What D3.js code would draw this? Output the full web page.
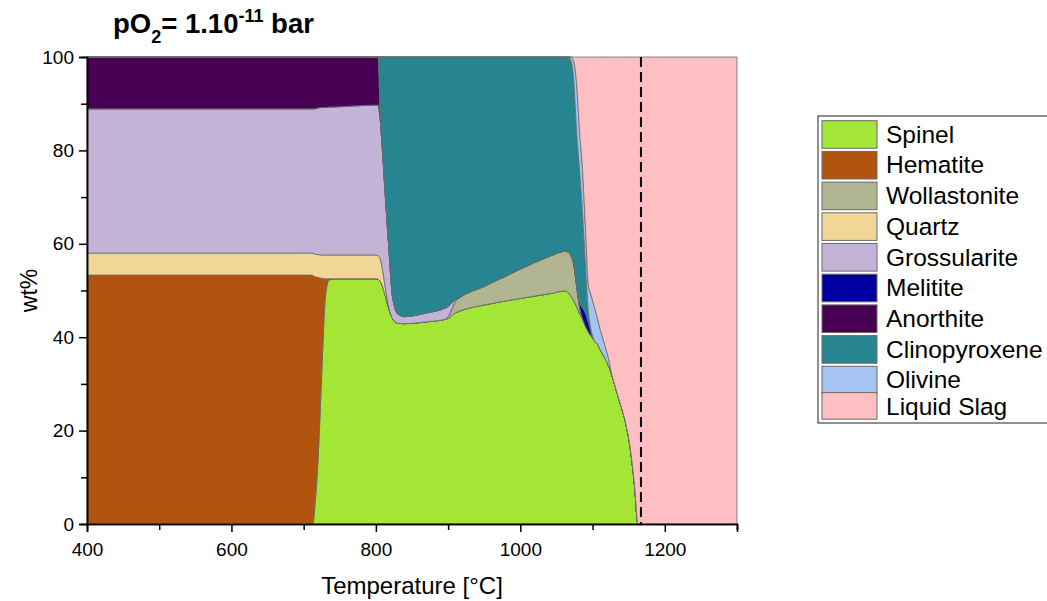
<!DOCTYPE html>
<html>
<head>
<meta charset="utf-8">
<script src="https://cdn.jsdelivr.net/npm/d3@7"></script>
<style>
body { margin: 0; background: #fff; }
text { font-family: Arial, "Liberation Sans", sans-serif; fill: #000; }
</style>
</head>
<body>
<div id="chart"></div>
<script>
// phase names, bottom of the stack first
var phases = ["Spinel", "Hematite", "Wollastonite", "Quartz", "Grossularite",
  "Melitite", "Anorthite", "Clinopyroxene", "Olivine", "Liquid Slag"];

// temperature grid (°C)
var temps = [400, 700, 705, 710, 713,
  715, 720, 725, 730, 735,
  740, 780, 800, 803, 806,
  810, 814, 818, 822, 826,
  830, 840, 870, 895, 900,
  905, 910, 915, 920, 950,
  1000, 1040, 1062, 1066, 1070,
  1074, 1078, 1082, 1086, 1090,
  1094, 1098, 1102, 1106, 1110,
  1116, 1122, 1126, 1130, 1134,
  1140, 1146, 1152, 1158, 1163,
  1170, 1300];

// wt% of each phase at the temperatures above
var spinel = [0, 0, 0, 0, 0,
  3, 14, 32, 48.5, 52.2,
  52.5, 52.5, 52.5, 52.4, 52.0,
  50.5, 48.3, 46.0, 44.3, 43.4,
  43.0, 42.9, 43.3, 43.8, 44.0,
  44.6, 45.2, 45.5, 45.8, 46.9,
  48.3, 49.3, 49.9, 49.6, 48.8,
  47.8, 46.5, 45.0, 43.9, 42.5,
  41.2, 40.3, 39.4, 38.7, 37.5,
  35.8, 33.9, 32.2, 30.2, 28.0,
  25.0, 21.5, 16.5, 8.5, 0,
  0, 0];

var hematite = [53.3, 53.3, 53.3, 53.3, 53.2,
  50.0, 38.8, 20.6, 4.0, 0.3,
  0, 0, 0, 0, 0,
  0, 0, 0, 0, 0,
  0, 0, 0, 0, 0,
  0, 0, 0, 0, 0,
  0, 0, 0, 0, 0,
  0, 0, 0, 0, 0,
  0, 0, 0, 0, 0,
  0, 0, 0, 0, 0,
  0, 0, 0, 0, 0,
  0, 0];

var wollastonite = [0, 0, 0, 0, 0,
  0, 0, 0, 0, 0,
  0, 0, 0, 0, 0,
  0, 0, 0, 0, 0,
  0, 0, 0, 0, 0.4,
  1.4, 2.5, 2.9, 3.1, 4.0,
  6.3, 8.0, 8.5, 8.6, 8.7,
  7.7, 4.5, 1.5, 0.2, 0,
  0, 0, 0, 0, 0,
  0, 0, 0, 0, 0,
  0, 0, 0, 0, 0,
  0, 0];

var quartz = [4.7, 4.7, 4.7, 4.7, 4.8,
  4.8, 4.9, 5.0, 5.1, 5.1,
  5.1, 5.1, 5.1, 5.0, 4.8,
  3.2, 1.4, 0.3, 0, 0,
  0, 0, 0, 0, 0,
  0, 0, 0, 0, 0,
  0, 0, 0, 0, 0,
  0, 0, 0, 0, 0,
  0, 0, 0, 0, 0,
  0, 0, 0, 0, 0,
  0, 0, 0, 0, 0,
  0, 0];

var grossularite = [30.9, 30.9, 30.9, 30.9, 30.9,
  31.1, 31.4, 31.6, 31.6, 31.7,
  31.7, 32.0, 32.1, 32.3, 29.7,
  24.0, 18.2, 12.7, 5.7, 3.1,
  2.0, 1.5, 1.9, 2.4, 2.2,
  1.3, 0.4, 0, 0, 0,
  0, 0, 0, 0, 0,
  0, 0, 0, 0, 0,
  0, 0, 0, 0, 0,
  0, 0, 0, 0, 0,
  0, 0, 0, 0, 0,
  0, 0];

var melitite = [0, 0, 0, 0, 0,
  0, 0, 0, 0, 0,
  0, 0, 0, 0, 0,
  0, 0, 0, 0, 0,
  0, 0, 0, 0, 0,
  0, 0, 0, 0, 0,
  0, 0, 0, 0, 0,
  0, 0, 1.0, 2.2, 2.8,
  2.2, 0.8, 0, 0, 0,
  0, 0, 0, 0, 0,
  0, 0, 0, 0, 0,
  0, 0];

var anorthite = [11.1, 11.1, 11.1, 11.1, 11.1,
  11.1, 10.9, 10.8, 10.8, 10.7,
  10.7, 10.4, 10.3, 10.3, 1.5,
  0.3, 0.1, 0, 0, 0,
  0, 0, 0, 0, 0,
  0, 0, 0, 0, 0,
  0, 0, 0, 0, 0,
  0, 0, 0, 0, 0,
  0, 0, 0, 0, 0,
  0, 0, 0, 0, 0,
  0, 0, 0, 0, 0,
  0, 0];

var clinopyroxene = [0, 0, 0, 0, 0,
  0, 0, 0, 0, 0,
  0, 0, 0, 0, 12,
  22, 32, 41, 50, 53.5,
  55, 55.6, 54.8, 53.8, 53.4,
  52.7, 51.9, 51.6, 51.1, 49.1,
  45.4, 42.7, 41.6, 41.8, 41.8,
  39.5, 33, 28.5, 20.7, 10.7,
  2.6, 0.5, 0, 0, 0,
  0, 0, 0, 0, 0,
  0, 0, 0, 0, 0,
  0, 0];

var olivine = [0, 0, 0, 0, 0,
  0, 0, 0, 0, 0,
  0, 0, 0, 0, 0,
  0, 0, 0, 0, 0,
  0, 0, 0, 0, 0,
  0, 0, 0, 0, 0,
  0, 0, 0, 0, 0.7,
  4, 10, 8, 9, 8,
  5.5, 7.4, 7.4, 5.8, 4.5,
  3.0, 1.6, 0.3, 0, 0,
  0, 0, 0, 0, 0,
  0, 0];

var liquid = [0, 0, 0, 0, 0,
  0, 0, 0, 0, 0,
  0, 0, 0, 0, 0,
  0, 0, 0, 0, 0,
  0, 0, 0, 0, 0,
  0, 0, 0, 0, 0,
  0, 0, 0, 0, 0,
  1, 6, 16, 24, 36,
  48.5, 51, 53.2, 55.5, 58,
  61.2, 64.5, 67.5, 69.8, 72,
  75, 78.5, 83.5, 91.5, 100,
  100, 100];

// dashed marker temperature
var markerT = 1167;

var xTicks = [400, 600, 800, 1000, 1200];
var xMinor = [500, 700, 900, 1100, 1300];
var yTicks = [0, 20, 40, 60, 80, 100];
var yMinor = [10, 30, 50, 70, 90];

var colors = {
  "Spinel": "#a3e636",
  "Hematite": "#b0540e",
  "Wollastonite": "#b1b592",
  "Quartz": "#f2d698",
  "Grossularite": "#c2b3d7",
  "Melitite": "#0000a0",
  "Anorthite": "#480052",
  "Clinopyroxene": "#268590",
  "Olivine": "#a6c4f2",
  "Liquid Slag": "#fdbfc1"
};

var series = [spinel, hematite, wollastonite, quartz, grossularite,
  melitite, anorthite, clinopyroxene, olivine, liquid];

var table = temps.map(function(t, i) {
  var row = {T: t};
  phases.forEach(function(p, j) { row[p] = series[j][i]; });
  return row;
});

var svgWidth = 1047;
var svgHeight = 601;
var margin = {top: 57, right: 310, bottom: 77, left: 87};
var width = svgWidth - margin.left - margin.right;
var height = svgHeight - margin.top - margin.bottom;

var svg = d3.select("#chart")
  .append("svg")
  .attr("width", svgWidth)
  .attr("height", svgHeight);

var chartGroup = svg.append("g")
  .attr("transform", `translate(${margin.left}, ${margin.top})`);

var x = d3.scaleLinear().domain([400, 1300]).range([0, width]);
var y = d3.scaleLinear().domain([0, 100]).range([height, 0]);

var stacked = d3.stack().keys(phases)(table);

var area = d3.area()
  .x(d => x(d.data.T))
  .y0(d => y(d[0]))
  .y1(d => y(d[1]))
  .curve(d3.curveMonotoneX);

chartGroup.selectAll("path.layer")
  .data(stacked)
  .enter()
  .append("path")
  .attr("class", "layer")
  .attr("d", area)
  .attr("fill", d => colors[d.key])
  .attr("stroke", "#6a6a6a")
  .attr("stroke-width", 0.8);

// dashed vertical line
chartGroup.append("line")
  .attr("x1", x(markerT)).attr("x2", x(markerT))
  .attr("y1", 0).attr("y2", height)
  .attr("stroke", "#000")
  .attr("stroke-width", 2)
  .attr("stroke-dasharray", "10,5");

// axes
var bottomAxis = d3.axisBottom(x).tickValues(xTicks).tickSize(8).tickPadding(11).tickFormat(d3.format("d"));
var bottomMinor = d3.axisBottom(x).tickValues(xMinor).tickSize(6).tickFormat("");
var leftAxis = d3.axisLeft(y).tickValues(yTicks).tickSize(8).tickPadding(5);
var leftMinor = d3.axisLeft(y).tickValues(yMinor).tickSize(6).tickFormat("");

function styleAxis(g) {
  g.selectAll("path.domain").attr("stroke", "#000").attr("stroke-width", 1.5);
  g.selectAll(".tick line").attr("stroke", "#000").attr("stroke-width", 1.5);
  g.selectAll(".tick text").attr("font-size", "19px").attr("font-family", "Arial, 'Liberation Sans', sans-serif").attr("fill", "#000");
}

chartGroup.append("g").attr("transform", `translate(0, ${height})`).call(bottomMinor).call(styleAxis);
chartGroup.append("g").attr("transform", `translate(0, ${height})`).call(bottomAxis).call(styleAxis);
chartGroup.append("g").call(leftMinor).call(styleAxis);
chartGroup.append("g").call(leftAxis).call(styleAxis);

// axis labels
chartGroup.append("text")
  .attr("transform", "rotate(-90)")
  .attr("x", -height / 2)
  .attr("y", -50)
  .attr("text-anchor", "middle")
  .attr("font-size", "23px")
  .text("wt%");

chartGroup.append("text")
  .attr("x", width / 2)
  .attr("y", height + 70)
  .attr("text-anchor", "middle")
  .attr("font-size", "24px")
  .text("Temperature [°C]");

// title
var title = svg.append("text")
  .attr("x", 113)
  .attr("y", 33)
  .attr("font-size", "27.5px")
  .attr("font-weight", "bold");
title.append("tspan").text("pO");
title.append("tspan").attr("dy", 10).attr("font-size", "18px").text("2");
title.append("tspan").attr("dy", -10).text("= 1.10");
title.append("tspan").attr("dy", -11).attr("font-size", "18px").text("-11");
title.append("tspan").attr("dy", 11).text(" bar");

// legend
var legend = svg.append("g");
legend.append("rect")
  .attr("x", 818).attr("y", 116)
  .attr("width", 240).attr("height", 307)
  .attr("fill", "#fff")
  .attr("stroke", "#222")
  .attr("stroke-width", 1);

var rowTop = (d, i) => i < 9 ? 120.7 + i * 30.7 : 392.6;

legend.selectAll("rect.sw")
  .data(phases)
  .enter()
  .append("rect")
  .attr("class", "sw")
  .attr("x", 822)
  .attr("y", rowTop)
  .attr("width", 55)
  .attr("height", (d, i) => i < 9 ? 27.6 : 26.6)
  .attr("fill", d => colors[d])
  .attr("stroke", "#6a6a6a")
  .attr("stroke-width", 1);

legend.selectAll("text")
  .data(phases)
  .enter()
  .append("text")
  .attr("x", 886)
  .attr("y", (d, i) => rowTop(d, i) + 22)
  .attr("font-size", "24.5px")
  .text(d => d);
</script>
</body>
</html>
